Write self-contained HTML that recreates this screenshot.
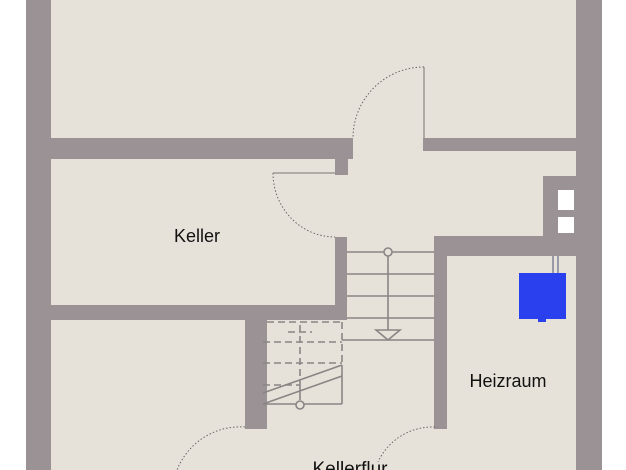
<!DOCTYPE html>
<html><head><meta charset="utf-8"><style>
html,body{margin:0;padding:0;background:#fff;}
svg{display:block;}
text{font-family:"Liberation Sans",sans-serif;fill:#111;}
</style></head><body>
<svg width="626" height="470" viewBox="0 0 626 470" xmlns="http://www.w3.org/2000/svg">
<rect x="0" y="0" width="626" height="470" fill="#fff"/>
<rect x="26" y="0" width="576" height="470" fill="#e7e2d9"/>
<g fill="#9a9295">
<rect x="26" y="0" width="25" height="470"/>
<rect x="576" y="0" width="26" height="470"/>
<rect x="51" y="138" width="302" height="21"/>
<rect x="335" y="138" width="13" height="37"/>
<rect x="423" y="138" width="153" height="13"/>
<rect x="335" y="237" width="12" height="83"/>
<rect x="51" y="305" width="296" height="15"/>
<rect x="245" y="305" width="22" height="124"/>
<rect x="434" y="236" width="13" height="193"/>
<rect x="434" y="236" width="142" height="20"/>
<rect x="543" y="176" width="33" height="80"/>
</g>
<rect x="558" y="190" width="16" height="20" fill="#fff"/>
<rect x="558" y="217" width="16" height="16" fill="#fff"/>
<!-- boiler -->
<rect x="552" y="256" width="2" height="18" fill="#9a9aa8"/>
<rect x="557" y="256" width="2" height="18" fill="#9a9aa8"/>
<rect x="519" y="273" width="47" height="46" fill="#2a40ee"/>
<rect x="538" y="319" width="8" height="3" fill="#2a40ee"/>
<!-- doors -->
<g fill="none" stroke="#777" stroke-width="1">
<line x1="424" y1="67" x2="424" y2="138"/>
<line x1="273" y1="173" x2="335" y2="173"/>
</g>
<g fill="none" stroke="#666" stroke-width="1" stroke-dasharray="1.5,2">
<path d="M424,67 A71,71 0 0 0 353,138"/>
<path d="M273,173 A62,64 0 0 0 335,237"/>
<path d="M245,427 A68,68 0 0 0 177,470"/>
<path d="M435,427 A60,60 0 0 0 378,462"/>
</g>
<!-- stairs -->
<g stroke="#8a8585" stroke-width="1.6" fill="none">
<line x1="347" y1="252" x2="434" y2="252"/>
<line x1="347" y1="274" x2="434" y2="274"/>
<line x1="347" y1="296" x2="434" y2="296"/>
<line x1="347" y1="318" x2="434" y2="318"/>
<line x1="342" y1="340" x2="434" y2="340"/>
<line x1="388" y1="256" x2="388" y2="330"/>
<circle cx="388" cy="252" r="4" fill="#e7e2d9"/>
<path d="M376,330 L400,330 L388,340 Z"/>
<line x1="263" y1="404" x2="342" y2="404"/>
<line x1="342" y1="365" x2="342" y2="404"/>
<line x1="263" y1="393" x2="342" y2="365"/>
<line x1="263" y1="404" x2="342" y2="376"/>
<line x1="300" y1="385" x2="300" y2="400"/>
<circle cx="300" cy="405" r="4" fill="#e7e2d9"/>
</g>
<g stroke="#8a8585" stroke-width="1.6" fill="none" stroke-dasharray="7,4">
<line x1="267" y1="322" x2="342" y2="322"/>
<line x1="263" y1="342" x2="342" y2="342"/>
<line x1="263" y1="363" x2="342" y2="363"/>
<line x1="263" y1="385" x2="300" y2="385"/>
<line x1="300" y1="325" x2="300" y2="385"/>
<line x1="342" y1="322" x2="342" y2="365"/>
<line x1="288" y1="332" x2="312" y2="332"/>
</g>
<text x="197" y="242" font-size="18" text-anchor="middle">Keller</text>
<text x="508" y="387" font-size="18" text-anchor="middle">Heizraum</text>
<text x="350" y="475" font-size="19" text-anchor="middle">Kellerflur</text>
</svg>
</body></html>
